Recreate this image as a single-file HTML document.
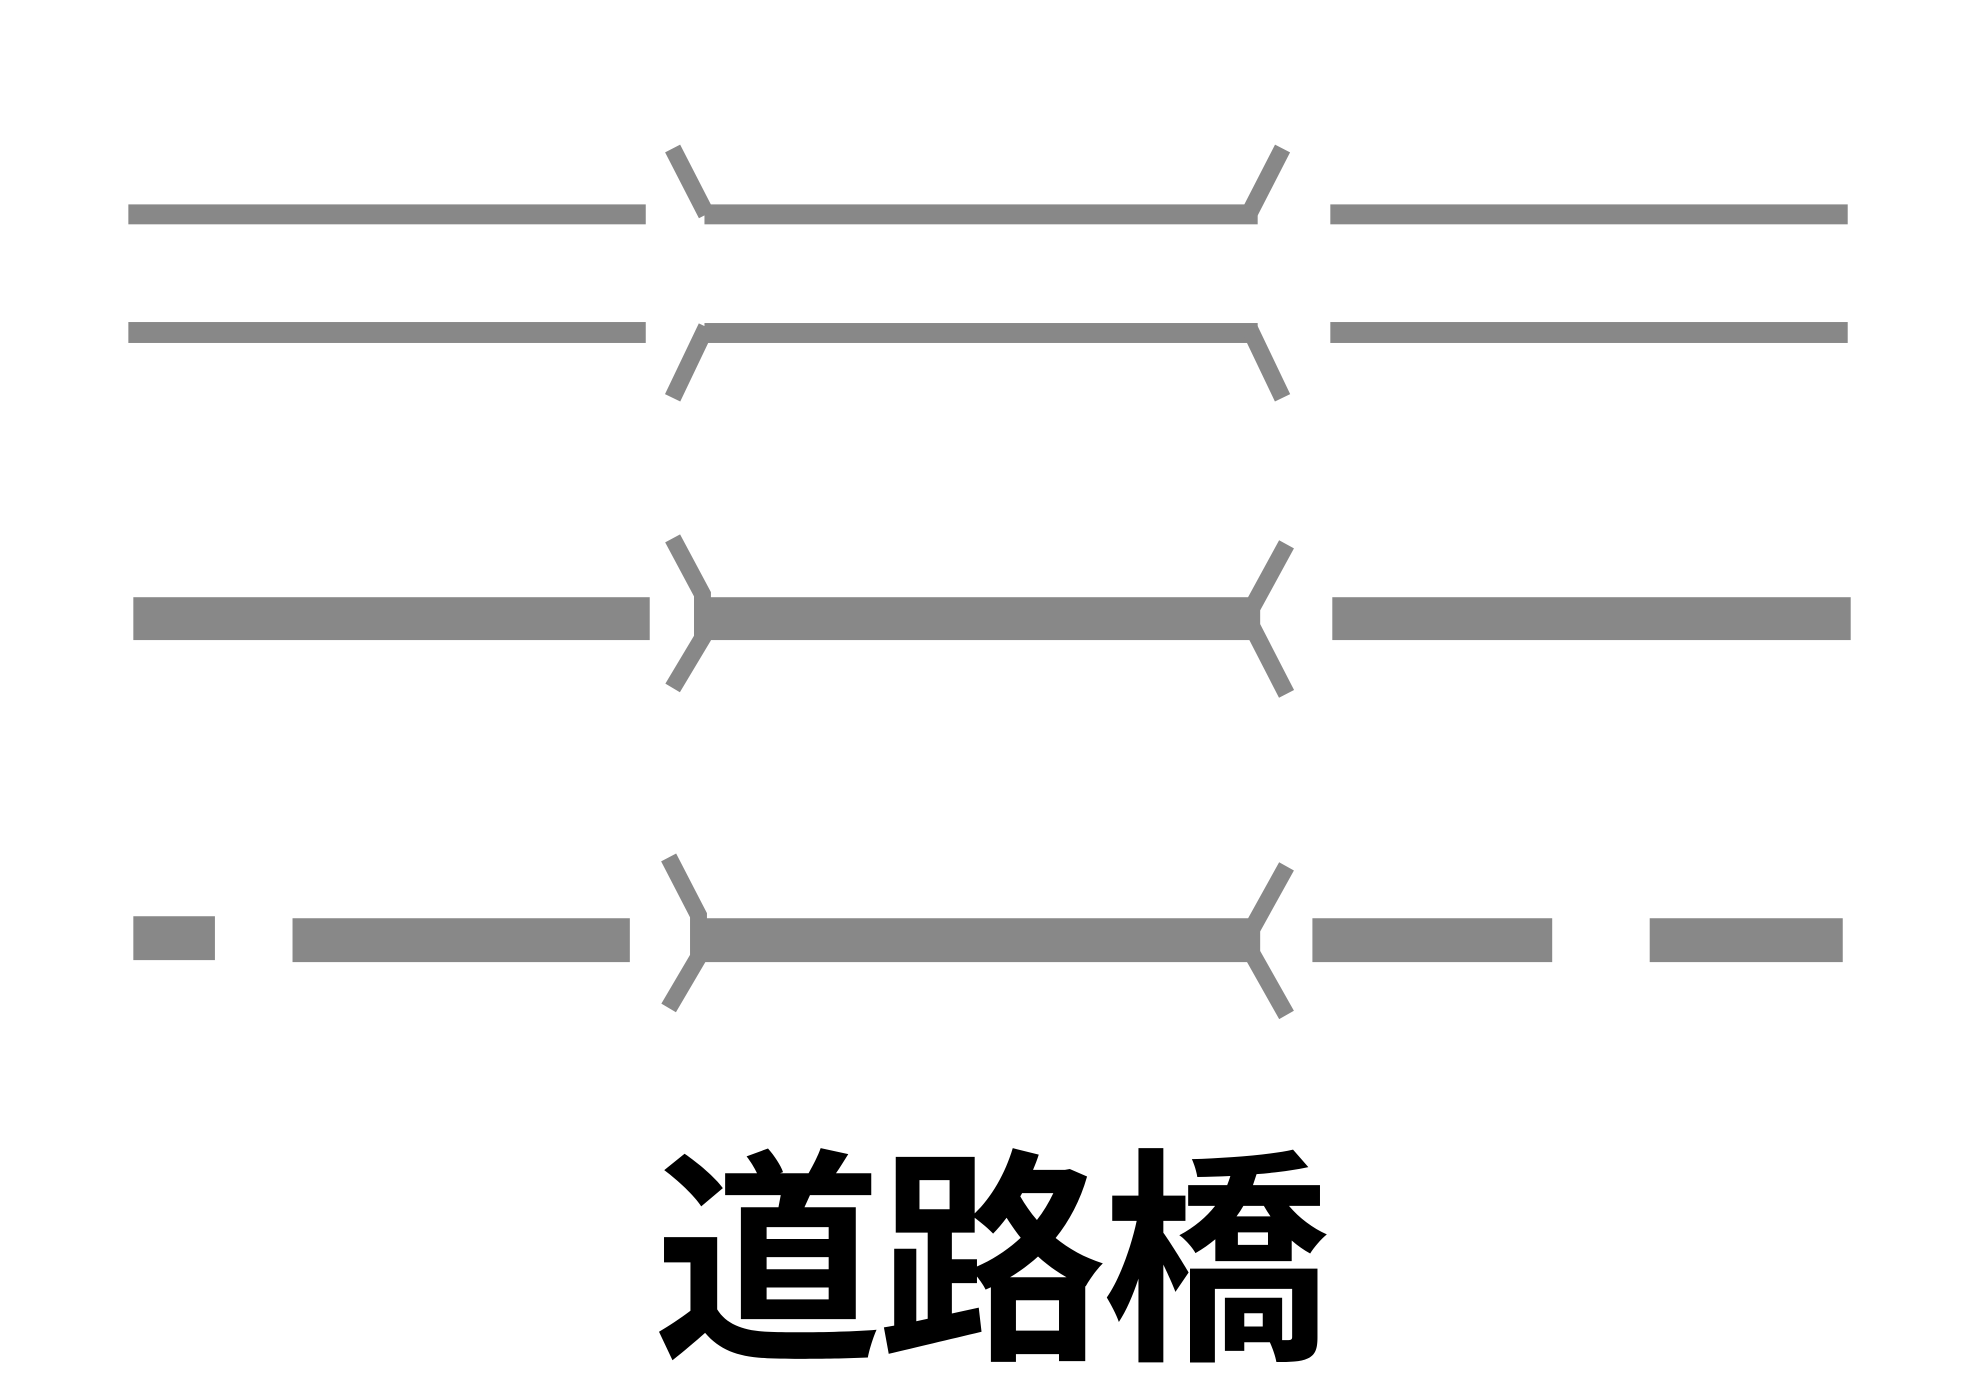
<!DOCTYPE html>
<html><head><meta charset="utf-8"><style>
html,body{margin:0;padding:0;background:#fff;width:1971px;height:1380px;overflow:hidden;position:relative}
svg{position:absolute;left:0;top:0}
.t{position:absolute;left:0;width:1980px;top:1134px;text-align:center;font-family:"Liberation Sans","Noto Sans CJK JP",sans-serif;font-size:228px;font-weight:bold;line-height:260px;color:#000;letter-spacing:-4px}
</style></head><body>
<svg width="1971" height="1380" viewBox="0 0 1971 1380">
<g transform="scale(0.995,0.997)">
<g fill="#888">
<rect x="129" y="205" width="520" height="20"/>
<rect x="708" y="205" width="556" height="20"/>
<rect x="1337" y="205" width="520" height="20"/>
<rect x="129" y="323" width="520" height="21"/>
<rect x="708" y="324" width="556" height="20"/>
<rect x="1337" y="323" width="520" height="21"/>
<rect x="134" y="599" width="519" height="43"/>
<rect x="702" y="599" width="555" height="43"/>
<rect x="1339" y="599" width="521" height="43"/>
<rect x="134" y="919" width="82" height="44"/>
<rect x="294" y="921" width="339" height="44"/>
<rect x="699" y="921" width="558" height="44"/>
<rect x="1319" y="921" width="241" height="44"/>
<rect x="1658" y="921" width="194" height="44"/>
</g>
<g stroke="#888" stroke-width="17" fill="none">
<path d="M676 149L710 215M710 328L676 399M1289 149L1255 215M1255 328L1289 399"/>
<path d="M676 540L706 596L706 640L676 690M1293 546L1258 610L1258 628L1293 696"/>
<path d="M672 860L702 918L702 960L672 1011M1293 869L1258 932L1258 956L1293 1018"/>
</g>
</g>
</svg>
<div class="t">道路橋</div>
</body></html>
